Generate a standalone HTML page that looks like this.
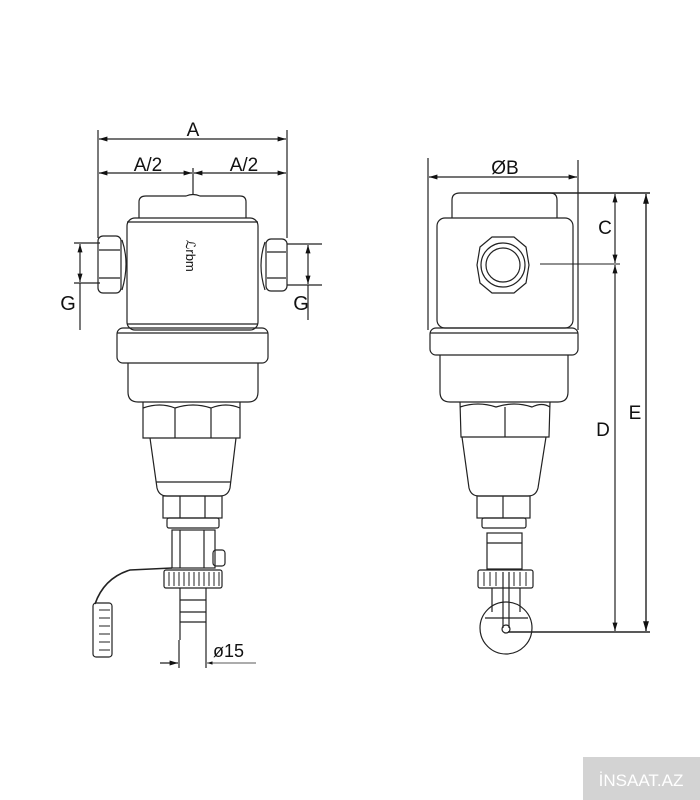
<!DOCTYPE html>
<html><head><meta charset="utf-8"><style>
html,body{margin:0;padding:0;background:#fff;width:700px;height:800px;overflow:hidden}
svg{display:block}
text{font-family:"Liberation Sans",sans-serif;fill:#111}
</style></head><body>
<svg width="700" height="800" viewBox="0 0 700 800" xmlns="http://www.w3.org/2000/svg">
<defs>
<marker id="ar" viewBox="0 0 10 10" refX="10" refY="5" markerWidth="7" markerHeight="7" orient="auto-start-reverse"><path d="M0,2 L10,5 L0,8 z" fill="#111"/></marker>
</defs>
<g stroke="#222" stroke-width="1.2" fill="none">
<line x1="98" y1="130" x2="98" y2="238"/><line x1="287" y1="130" x2="287" y2="238"/>
<line x1="99" y1="139" x2="286" y2="139" marker-start="url(#ar)" marker-end="url(#ar)"/>
<line x1="99" y1="173" x2="192" y2="173" marker-start="url(#ar)" marker-end="url(#ar)"/>
<line x1="194" y1="173" x2="286" y2="173" marker-start="url(#ar)" marker-end="url(#ar)"/>
<line x1="193" y1="168" x2="193" y2="194"/>
<line x1="74" y1="243" x2="100" y2="243"/><line x1="74" y1="283" x2="100" y2="283"/>
<line x1="80" y1="244" x2="80" y2="282" marker-start="url(#ar)" marker-end="url(#ar)"/>
<line x1="80" y1="283" x2="80" y2="330"/>
<line x1="287" y1="244" x2="322" y2="244"/><line x1="287" y1="285" x2="322" y2="285"/>
<line x1="308" y1="245" x2="308" y2="284" marker-start="url(#ar)" marker-end="url(#ar)"/>
<line x1="308" y1="285" x2="308" y2="320"/>
<path d="M139,218 L139,202 Q139,196 146,196 L186,196 Q193,193 200,196 L240,196 Q246,196 246,202 L246,218"/>
<rect x="127" y="218" width="131" height="112" rx="8"/>
<line x1="127" y1="222" x2="258" y2="222"/>
<line x1="127" y1="324" x2="258" y2="324"/>
<path d="M122,240 Q130,263 122,290"/><path d="M265,242 Q257,265 265,290"/>
<rect x="98" y="236" width="23" height="57" rx="5"/>
<rect x="266" y="239" width="21" height="52" rx="5"/>
<line x1="99" y1="250" x2="120" y2="250"/><line x1="99" y1="278" x2="120" y2="278"/>
<line x1="267" y1="252" x2="286" y2="252"/><line x1="267" y1="278" x2="286" y2="278"/>
<rect x="117" y="328" width="151" height="35" rx="6"/>
<line x1="117" y1="333" x2="268" y2="333"/>
<path d="M128,363 L128,392 Q128,402 138,402 L248,402 Q258,402 258,392 L258,363"/>
<path d="M143,402 L143,438 L240,438 L240,402"/>
<path d="M143,408 Q160,402 175,408 Q193,402 211,408 Q226,402 240,408"/>
<line x1="175" y1="408" x2="175" y2="438"/><line x1="211" y1="408" x2="211" y2="438"/>
<path d="M150,438 L157,488 Q159,496 167,496 L220,496 Q228,496 230,488 L236,438"/>
<line x1="156" y1="482" x2="231" y2="482"/>
<rect x="163" y="496" width="59" height="22"/>
<line x1="180" y1="496" x2="180" y2="518"/><line x1="205" y1="496" x2="205" y2="518"/>
<rect x="167" y="518" width="52" height="10" rx="2"/>
<rect x="172" y="530" width="43" height="38"/>
<line x1="180" y1="530" x2="180" y2="568"/><line x1="204" y1="530" x2="204" y2="568"/>
<rect x="213" y="550" width="12" height="16" rx="3"/>
<rect x="164" y="570" width="58" height="18" rx="2"/>
<g stroke-width="1">
<line x1="169" y1="572" x2="169" y2="586"/><line x1="174" y1="572" x2="174" y2="586"/><line x1="179" y1="572" x2="179" y2="586"/><line x1="184" y1="572" x2="184" y2="586"/><line x1="189" y1="572" x2="189" y2="586"/><line x1="194" y1="572" x2="194" y2="586"/><line x1="199" y1="572" x2="199" y2="586"/><line x1="204" y1="572" x2="204" y2="586"/><line x1="209" y1="572" x2="209" y2="586"/><line x1="214" y1="572" x2="214" y2="586"/><line x1="219" y1="572" x2="219" y2="586"/>
</g>
<path d="M180,588 L180,640 M206,588 L206,640"/>
<line x1="180" y1="600" x2="206" y2="600"/><line x1="180" y1="612" x2="206" y2="612"/><line x1="180" y1="622" x2="206" y2="622"/>
<path d="M172,568 L130,570 Q104,578 95,604" stroke-width="1.6"/>
<rect x="93" y="603" width="19" height="54" rx="3"/>
<g stroke-width="1"><line x1="99" y1="610" x2="110" y2="610"/><line x1="99" y1="618" x2="110" y2="618"/><line x1="99" y1="626" x2="110" y2="626"/><line x1="99" y1="634" x2="110" y2="634"/><line x1="99" y1="642" x2="110" y2="642"/><line x1="99" y1="650" x2="110" y2="650"/></g>
<line x1="179" y1="640" x2="179" y2="668"/><line x1="206" y1="640" x2="206" y2="668"/>
<line x1="160" y1="663" x2="178" y2="663" marker-end="url(#ar)"/>
<line x1="256" y1="663" x2="207" y2="663" marker-end="url(#ar)" stroke-width="0.8"/>

<line x1="428" y1="158" x2="428" y2="330"/><line x1="578" y1="160" x2="578" y2="330"/>
<line x1="429" y1="177" x2="577" y2="177" marker-start="url(#ar)" marker-end="url(#ar)"/>
<path d="M452,218 L452,200 Q452,193 460,193 L550,193 Q557,193 557,200 L557,218"/>
<line x1="500" y1="193" x2="650" y2="193" stroke-width="1.5"/>
<rect x="437" y="218" width="136" height="110" rx="8"/>
<polygon points="480,247 492,237 514,237 526,247 529,265 526,283 514,293 492,293 480,283 477,265"/>
<circle cx="503" cy="265" r="22"/><circle cx="503" cy="265" r="17"/>
<line x1="540" y1="264" x2="620" y2="264" stroke-width="0.9"/>
<rect x="430" y="328" width="148" height="27" rx="6"/>
<line x1="430" y1="333" x2="578" y2="333"/>
<path d="M440,355 L440,392 Q440,402 450,402 L558,402 Q568,402 568,392 L568,355"/>
<path d="M460,402 L461,437 L549,437 L550,402"/>
<path d="M460,407 Q478,401 496,407 Q514,401 532,407 Q542,402 550,407"/>
<line x1="505" y1="407" x2="505" y2="437"/>
<path d="M462,437 L469,488 Q471,496 479,496 L528,496 Q536,496 538,488 L546,437"/>
<rect x="477" y="496" width="53" height="22"/><line x1="503" y1="496" x2="503" y2="518"/>
<rect x="482" y="518" width="44" height="10" rx="2"/>
<rect x="487" y="533" width="35" height="36"/><line x1="487" y1="543" x2="522" y2="543"/>
<rect x="478" y="570" width="55" height="18" rx="2"/>
<g stroke-width="1"><line x1="484" y1="572" x2="484" y2="586"/><line x1="490" y1="572" x2="490" y2="586"/><line x1="496" y1="572" x2="496" y2="586"/><line x1="514" y1="572" x2="514" y2="586"/><line x1="520" y1="572" x2="520" y2="586"/><line x1="526" y1="572" x2="526" y2="586"/></g>
<path d="M492,588 L492,612 M520,588 L520,612"/>
<circle cx="506" cy="628" r="26"/>
<line x1="503" y1="572" x2="503" y2="628"/><line x1="509" y1="572" x2="509" y2="628"/>
<line x1="485" y1="618" x2="528" y2="618"/>
<circle cx="506" cy="629" r="4"/>
<line x1="508" y1="632" x2="650" y2="632" stroke-width="1.5"/>
<line x1="615" y1="194" x2="615" y2="263" marker-start="url(#ar)" marker-end="url(#ar)"/>
<line x1="615" y1="265" x2="615" y2="631" marker-start="url(#ar)" marker-end="url(#ar)"/>
<line x1="646" y1="194" x2="646" y2="631" marker-start="url(#ar)" marker-end="url(#ar)" stroke-width="1.4"/>
</g>
<text x="193" y="136" font-size="19" text-anchor="middle">A</text>
<text x="148" y="171" font-size="19" text-anchor="middle">A/2</text>
<text x="244" y="171" font-size="19" text-anchor="middle">A/2</text>
<text x="68" y="310" font-size="20" text-anchor="middle">G</text>
<text x="301" y="310" font-size="20" text-anchor="middle">G</text>
<text x="186" y="240" font-size="13" transform="rotate(90 186 240)" fill="#444">ℒrbm</text>
<text x="213" y="657" font-size="18">ø15</text>
<text x="505" y="174" font-size="19" text-anchor="middle">ØB</text>
<text x="605" y="234" font-size="19" text-anchor="middle">C</text>
<text x="603" y="436" font-size="19" text-anchor="middle">D</text>
<text x="635" y="419" font-size="19" text-anchor="middle">E</text>
<rect x="583" y="757" width="117" height="43" fill="#d3d3d3"/>
<text x="641" y="786" font-size="17" text-anchor="middle" style="fill:#fff">İNSAAT.AZ</text>
</svg>
</body></html>
